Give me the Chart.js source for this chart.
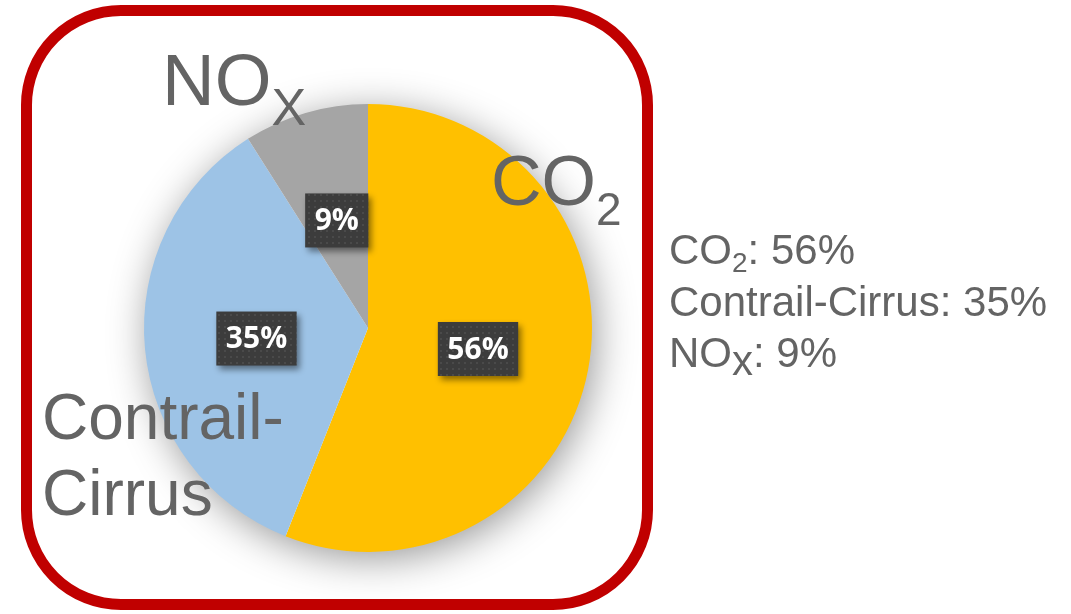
<!DOCTYPE html>
<html>
<head>
<meta charset="utf-8">
<script src="https://cdn.jsdelivr.net/npm/chart.js@4.4.1/dist/chart.umd.min.js"></script>
<style>
  html, body { margin: 0; padding: 0; background: #fff; }
  #wrap { position: relative; width: 1071px; height: 614px; overflow: hidden; font-family: "Liberation Sans", Arial, sans-serif; color: #646464; }
  #frame { position: absolute; left: 21px; top: 5px; width: 632px; height: 605px; box-sizing: border-box; border: 11px solid #C00000; border-radius: 100px; }
  #grafico { position: absolute; left: 0; top: 0; }
  .big { position: absolute; line-height: 1; white-space: nowrap; }
  .big span { line-height: 1; }
  #legenda { position: absolute; left: 669px; top: 225px; font-size: 42px; line-height: 50.5px; white-space: nowrap; }
  #legenda sub { font-size: 28px; vertical-align: -8px; line-height: 1; }
  #legenda sub.full { font-size: 42px; }
</style>
</head>
<body>
<div id="wrap">
  <div id="frame"></div>
  <canvas id="grafico" width="1071" height="614"></canvas>
  <!-- rótulos grandes ao lado das fatias -->
  <div class="big" style="left:162px; top:43px; font-size:73px;">NO<span style="font-size:52px; vertical-align:-20px;">X</span></div>
  <div class="big" style="left:491px; top:146px; font-size:70px;">CO<span style="font-size:46px; vertical-align:-20px;">2</span></div>
  <div class="big" style="left:42px; top:379px; font-size:64px; line-height:76px;">Contrail-<br>Cirrus</div>
  <div id="legenda"></div>
</div>
<script>
// dados do gráfico
const categorias = ["CO2", "Contrail-Cirrus", "NOx"];
const valores = [56, 35, 9];
const rotulos = ["56%", "35%", "9%"];
const cores = ["#FFC000", "#9DC3E6", "#A5A5A5"];

// legenda à direita (com subscritos)
const formatarNome = (nome) => {
  if (nome === "CO2") return 'CO<sub>2</sub>';
  if (nome === "NOx") return 'NO<sub class="full">x</sub>';
  return nome;
};
document.getElementById("legenda").innerHTML = categorias
  .map((c, i) => `${formatarNome(c)}: ${valores[i]}%`)
  .join("<br>");

// textura pontilhada das caixas de rótulo
const padCanvas = document.createElement("canvas");
padCanvas.width = 6;
padCanvas.height = 6;
const pctx = padCanvas.getContext("2d");
pctx.fillStyle = "#3c3c3c";
pctx.fillRect(0, 0, 6, 6);
pctx.fillStyle = "#4a4a4a";
pctx.fillRect(2, 2, 2, 2);

// sombra suave atrás da pizza
const sombraPizza = {
  id: "sombraPizza",
  beforeDatasetsDraw(chart) {
    const arc = chart.getDatasetMeta(0).data[0];
    if (!arc) return;
    const ctx = chart.ctx;
    ctx.save();
    ctx.shadowColor = "rgba(0,0,0,0.42)";
    ctx.shadowBlur = 40;
    ctx.shadowOffsetX = 4;
    ctx.shadowOffsetY = 7;
    ctx.fillStyle = "#fff";
    ctx.beginPath();
    ctx.arc(arc.x, arc.y, arc.outerRadius - 1, 0, Math.PI * 2);
    ctx.fill();
    ctx.restore();
  },
};

// caixas escuras com as porcentagens
const rotulosPizza = {
  id: "rotulosPizza",
  afterDatasetsDraw(chart) {
    const ctx = chart.ctx;
    const padrao = ctx.createPattern(padCanvas, "repeat");
    chart.getDatasetMeta(0).data.forEach((arc, i) => {
      const pos = arc.tooltipPosition();
      ctx.save();
      ctx.font = "bold 30px 'Open Sans'";
      const w = ctx.measureText(rotulos[i]).width + 19;
      const h = 54;
      ctx.shadowColor = "rgba(0,0,0,0.45)";
      ctx.shadowBlur = 6;
      ctx.shadowOffsetX = 3;
      ctx.shadowOffsetY = 4;
      ctx.fillStyle = padrao;
      ctx.fillRect(pos.x - w / 2, pos.y - h / 2, w, h);
      ctx.shadowColor = "transparent";
      ctx.fillStyle = "#fff";
      ctx.textAlign = "center";
      ctx.textBaseline = "middle";
      ctx.fillText(rotulos[i], pos.x, pos.y + 1);
      ctx.restore();
    });
  },
};

new Chart(document.getElementById("grafico"), {
  type: "pie",
  data: {
    labels: categorias,
    datasets: [{ data: valores, backgroundColor: cores, borderWidth: 0 }],
  },
  options: {
    responsive: false,
    animation: false,
    layout: { padding: { left: 144, right: 479, top: 104, bottom: 62 } },
    plugins: { legend: { display: false }, tooltip: { enabled: false } },
  },
  plugins: [sombraPizza, rotulosPizza],
});
</script>
</body>
</html>
